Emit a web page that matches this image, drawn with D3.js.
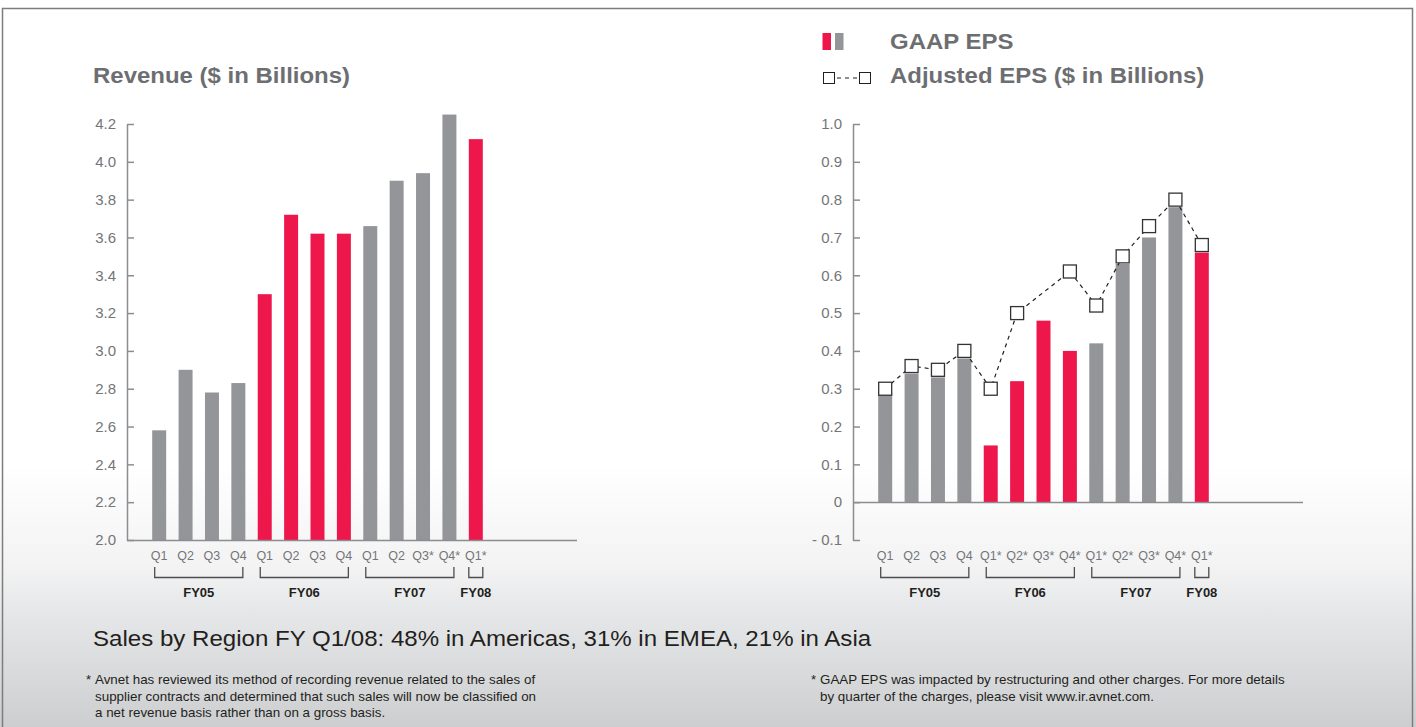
<!DOCTYPE html>
<html lang="en">
  <head>
    <meta charset="utf-8">
    <title>Avnet Revenue and EPS</title>
    <script src="https://d3js.org/d3.v7.min.js"></script>
    <style>
      body { margin: 0; }
    </style>
  </head>
  <body>
    <script type="text/javascript">
      // quarter labels under each chart
      const revenueQuarters = ["Q1","Q2","Q3","Q4","Q1","Q2","Q3","Q4","Q1","Q2","Q3*","Q4*","Q1*"];
      const epsQuarters = ["Q1","Q2","Q3","Q4","Q1*","Q2*","Q3*","Q4*","Q1*","Q2*","Q3*","Q4*","Q1*"];
      const fiscalYears = ["FY05","FY05","FY05","FY05","FY06","FY06","FY06","FY06","FY07","FY07","FY07","FY07","FY08"];
      const redYears = ["FY06","FY08"];

      // values
      const revenue = [2.58, 2.90, 2.78, 2.83, 3.30, 3.72, 3.62, 3.62, 3.66, 3.90, 3.94, 4.25, 4.12];
      const gaapEps = [0.29, 0.34, 0.33, 0.38, 0.15, 0.32, 0.48, 0.40, 0.42, 0.63, 0.70, 0.78, 0.66];
      const adjustedEps = [0.30, 0.36, 0.35, 0.40, 0.30, 0.50, null, 0.61, 0.52, 0.65, 0.73, 0.80, 0.68];

      // axis ticks
      const revenueTicks = [2.0, 2.2, 2.4, 2.6, 2.8, 3.0, 3.2, 3.4, 3.6, 3.8, 4.0, 4.2];
      const epsTicks = [-0.1, 0, 0.1, 0.2, 0.3, 0.4, 0.5, 0.6, 0.7, 0.8, 0.9, 1.0];

      const svgWidth = 1416;
      const svgHeight = 727;
      const font = "'Liberation Sans', Arial, sans-serif";
      const grey = "#939598";
      const red = "#ed174b";
      const axisColor = "#8c8d90";
      const tickColor = "#747578";
      const titleColor = "#6d6e71";
      const dark = "#231f20";

      var svg = d3.select("body")
        .append("svg")
        .attr("width", svgWidth)
        .attr("height", svgHeight);

      var grad = svg.append("defs")
        .append("linearGradient")
        .attr("id", "bg")
        .attr("x1", 0).attr("y1", 0)
        .attr("x2", 0).attr("y2", 1);
      [[0, "#ffffff"], [0.64, "#ffffff"], [0.78, "#f3f3f4"], [0.83, "#e8e9ea"], [1, "#cdced0"]]
        .forEach(s => grad.append("stop").attr("offset", s[0]).attr("stop-color", s[1]));

      svg.append("rect")
        .attr("width", svgWidth)
        .attr("height", svgHeight)
        .attr("fill", "url(#bg)");

      svg.append("rect")
        .attr("x", 2.5)
        .attr("y", 8.5)
        .attr("width", 1410)
        .attr("height", 740)
        .attr("fill", "none")
        .attr("stroke", "#7d7d7d")
        .attr("stroke-width", 1.5);

      // text slightly wider than the installed fonts
      function wideText(x, y, str, size, weight, fill, sx) {
        return svg.append("text")
          .attr("transform", "translate(" + x + "," + y + ") scale(" + sx + ",1)")
          .attr("font-family", font)
          .attr("font-size", size + "px")
          .attr("font-weight", weight)
          .attr("fill", fill)
          .text(str);
      }

      function drawPanel(p) {
        var x = d3.scaleBand()
          .domain(d3.range(p.labels.length))
          .range(p.bandRange)
          .paddingInner(0.47)
          .paddingOuter(0.235);
        var bw = x.bandwidth();

        var g = svg.append("g").attr("class", p.name);

        var yAxis = g.append("g")
          .attr("transform", "translate(" + p.axisX + ",0)")
          .call(d3.axisLeft(p.y)
            .tickValues(p.ticks)
            .tickSizeInner(-7)
            .tickSizeOuter(0)
            .tickPadding(11)
            .tickFormat(p.format));
        yAxis.select(".domain").attr("stroke", axisColor).attr("stroke-width", 1.5);
        yAxis.selectAll(".tick line").attr("stroke", axisColor).attr("stroke-width", 1.5);
        yAxis.selectAll(".tick text")
          .attr("fill", tickColor)
          .attr("font-family", font)
          .attr("font-size", "15px");

        g.append("g")
          .selectAll("rect")
          .data(p.values)
          .join("rect")
          .attr("x", (d, i) => x(i))
          .attr("width", bw)
          .attr("y", d => p.y(d))
          .attr("height", d => p.y(p.base) - p.y(d))
          .attr("fill", (d, i) => redYears.includes(fiscalYears[i]) ? red : grey);

        g.append("line")
          .attr("x1", p.axisX)
          .attr("x2", p.axisEnd)
          .attr("y1", Math.round(p.y(p.base)) + 0.5)
          .attr("y2", Math.round(p.y(p.base)) + 0.5)
          .attr("stroke", axisColor)
          .attr("stroke-width", 1.5);

        g.append("g")
          .selectAll("text")
          .data(p.labels)
          .join("text")
          .attr("x", (d, i) => x(i) + bw / 2)
          .attr("y", 560)
          .attr("text-anchor", "middle")
          .attr("font-family", font)
          .attr("font-size", "12.5px")
          .attr("fill", tickColor)
          .text(d => d);

        var groups = d3.groups(d3.range(p.labels.length), i => fiscalYears[i]);
        groups.forEach(([fy, idx]) => {
          var inset = idx.length > 1 ? 2.5 : 0;
          var x0 = x(idx[0]) + inset;
          var x1 = x(idx[idx.length - 1]) + bw - inset;
          g.append("path")
            .attr("d", "M" + x0 + ",567V577.5H" + x1 + "V567")
            .attr("fill", "none")
            .attr("stroke", "#4d4d4f")
            .attr("stroke-width", 1.3);
          g.append("text")
            .attr("x", (x0 + x1) / 2)
            .attr("y", 597)
            .attr("text-anchor", "middle")
            .attr("font-family", font)
            .attr("font-size", "13px")
            .attr("font-weight", "bold")
            .attr("fill", dark)
            .text(fy);
        });

        if (p.line) {
          var pts = p.line.map((v, i) => ({i: i, v: v})).filter(d => d.v != null);
          var line = d3.line()
            .x(d => x(d.i) + bw / 2)
            .y(d => p.y(d.v));
          g.append("path")
            .datum(pts)
            .attr("d", line)
            .attr("fill", "none")
            .attr("stroke", dark)
            .attr("stroke-width", 1.2)
            .attr("stroke-dasharray", "4,4");
          g.append("g")
            .selectAll("rect")
            .data(pts)
            .join("rect")
            .attr("x", d => x(d.i) + bw / 2 - 6.5)
            .attr("y", d => p.y(d.v) - 6.5)
            .attr("width", 13)
            .attr("height", 13)
            .attr("fill", "white")
            .attr("stroke", "#333335")
            .attr("stroke-width", 1.3);
        }
      }

      drawPanel({
        name: "revenue",
        labels: revenueQuarters,
        values: revenue,
        ticks: revenueTicks,
        format: d3.format(".1f"),
        y: d3.scaleLinear().domain([2.0, 4.2]).range([540, 124]),
        base: 2.0,
        axisX: 127,
        axisEnd: 577,
        bandRange: [146, 489]
      });

      drawPanel({
        name: "eps",
        labels: epsQuarters,
        values: gaapEps,
        line: adjustedEps,
        ticks: epsTicks,
        format: d => d === 0 ? "0" : d < 0 ? "- " + Math.abs(d).toFixed(1) : d.toFixed(1),
        y: d3.scaleLinear().domain([-0.1, 1.0]).range([540, 124]),
        base: 0,
        axisX: 853,
        axisEnd: 1303,
        bandRange: [872, 1215]
      });

      // titles and legend
      wideText(93, 83, "Revenue ($ in Billions)", 22, "bold", titleColor, 1.09);
      wideText(890, 49, "GAAP EPS", 22, "bold", titleColor, 1.09);
      wideText(890, 83, "Adjusted EPS ($ in Billions)", 22, "bold", titleColor, 1.09);

      svg.append("rect").attr("x", 822.5).attr("y", 33).attr("width", 8.5).attr("height", 17).attr("fill", red);
      svg.append("rect").attr("x", 835).attr("y", 33).attr("width", 8.5).attr("height", 17).attr("fill", grey);
      svg.append("line")
        .attr("x1", 836).attr("x2", 858)
        .attr("y1", 78).attr("y2", 78)
        .attr("stroke", dark)
        .attr("stroke-width", 1.2)
        .attr("stroke-dasharray", "4,4")
        .attr("stroke-dashoffset", -1);
      [823, 859].forEach(sx => svg.append("rect")
        .attr("x", sx + 0.5).attr("y", 72.5)
        .attr("width", 11).attr("height", 11)
        .attr("fill", "white")
        .attr("stroke", dark)
        .attr("stroke-width", 1));

      wideText(93, 646, "Sales by Region FY Q1/08: 48% in Americas, 31% in EMEA, 21% in Asia", 22, "normal", dark, 1.095);

      // footnotes
      const leftNote = [
        "Avnet has reviewed its method of recording revenue related to the sales of",
        "supplier contracts and determined that such sales will now be classified on",
        "a net revenue basis rather than on a gross basis."
      ];
      const rightNote = [
        "GAAP EPS was impacted by restructuring and other charges. For more details",
        "by quarter of the charges, please visit www.ir.avnet.com."
      ];

      function footnote(x, lines) {
        svg.append("text")
          .attr("x", x - 9)
          .attr("y", 684)
          .attr("font-family", font)
          .attr("font-size", "13px")
          .attr("fill", dark)
          .text("*");
        lines.forEach((d, i) => {
          svg.append("text")
            .attr("transform", "translate(" + x + "," + (684 + i * 16.5) + ") scale(1.03,1)")
            .attr("font-family", font)
            .attr("font-size", "13px")
            .attr("fill", dark)
            .text(d);
        });
      }
      footnote(95, leftNote);
      footnote(820, rightNote);
    </script>
  </body>
</html>
